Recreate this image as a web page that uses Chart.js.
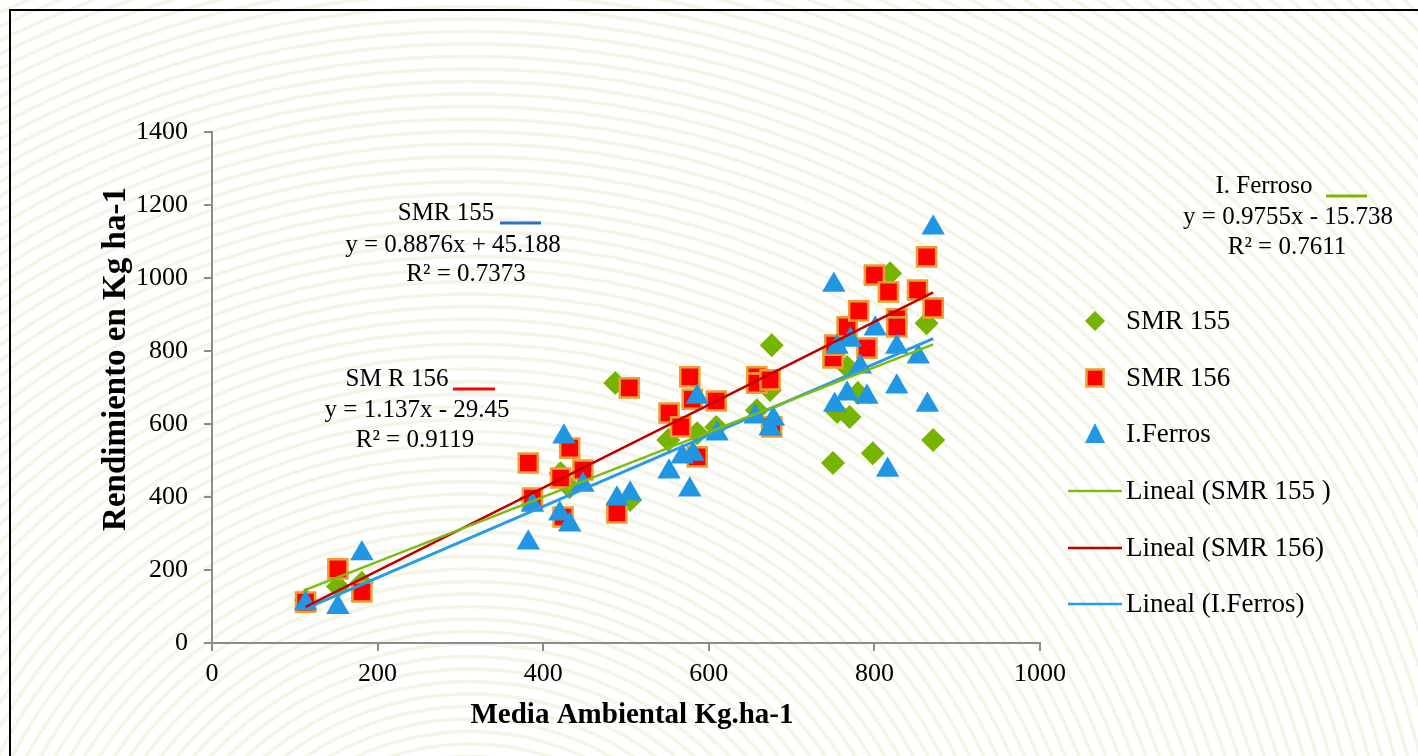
<!DOCTYPE html>
<html>
<head>
<meta charset="utf-8">
<script src="https://cdn.jsdelivr.net/npm/chart.js@4"></script>
<style>
  html, body { margin: 0; padding: 0; background: #fff; }
  #wrap { width: 1418px; height: 756px; }
</style>
</head>
<body>
<div id="wrap"><canvas id="chart" width="1418" height="756"></canvas></div>
<script>
// values
const smr155X = [113, 152, 181, 385, 421, 432, 487, 505, 551, 586, 609, 658, 674, 676, 750, 755, 767, 770, 780, 798, 819, 863, 871];
const smr155Y = [118, 155, 165, 395, 465, 427, 712, 392, 556, 575, 592, 638, 693, 816, 493, 633, 756, 619, 685, 520, 1013, 876, 556];

const smr156X = [113, 152, 181, 382, 387, 421, 424, 432, 448, 489, 504, 552, 566, 577, 580, 586, 609, 658, 658, 674, 676, 750, 752, 767, 781, 791, 800, 817, 827, 827, 852, 863, 871];
const smr156Y = [112, 203, 140, 493, 397, 452, 345, 534, 474, 356, 699, 630, 592, 729, 668, 510, 663, 729, 712, 721, 592, 781, 816, 866, 910, 808, 1008, 962, 888, 866, 967, 1058, 918];

const ferrosX = [113, 152, 181, 382, 387, 420, 425, 432, 448, 489, 505, 552, 568, 577, 581, 586, 610, 656, 674, 678, 751, 752, 755, 767, 771, 783, 791, 801, 816, 827, 827, 853, 864, 871];
const ferrosY = [108, 98, 245, 275, 378, 354, 565, 324, 433, 395, 409, 469, 510, 420, 518, 674, 573, 620, 587, 614, 981, 652, 811, 683, 830, 757, 674, 861, 474, 811, 702, 784, 652, 1138];

// linear trendlines as printed on the chart
const trendNames = ['Lineal (SMR 155 )', 'Lineal (SMR 156)', 'Lineal (I.Ferros)'];
const trendSlopes = [0.8876, 1.137, 0.9755];
const trendIntercepts = [45.188, -29.45, -15.738];
const trendRange = [113, 871];

const xTicks = [0, 200, 400, 600, 800, 1000];
const yTicks = [0, 200, 400, 600, 800, 1000, 1200, 1400];

const GREEN = '#76b400', RED = '#ff0000', ORANGE = '#e9a030', BLUE = '#2196e3';
const LINE_GREEN = '#7fba10', LINE_RED = '#c00000', LINE_BLUE = '#2a9be6';
const SERIF = '"Liberation Serif", "Times New Roman", serif';

function pts(xs, ys) { return xs.map((x, i) => ({ x: x, y: ys[i] })); }
function trend(i) {
    return trendRange.map(x => ({ x: x, y: trendSlopes[i] * x + trendIntercepts[i] }));
}

const bgPlugin = {
    id: 'bg',
    beforeDraw(chart) {
        const ctx = chart.ctx;
        ctx.save();
        ctx.fillStyle = '#ffffff';
        ctx.fillRect(0, 0, chart.width, chart.height);
        ctx.strokeStyle = '#f3f5e6';
        ctx.lineWidth = 3.5;
        for (let r = 6; r < 1800; r += 12.5) {
            ctx.beginPath();
            ctx.arc(470, 1000, r, 0, Math.PI * 2);
            ctx.stroke();
        }
        ctx.strokeStyle = '#000';
        ctx.lineWidth = 2;
        ctx.strokeRect(10, 10, 1440, 780);
        ctx.restore();
    }
};

function diamond(ctx, x, y, r) {
    ctx.beginPath();
    ctx.moveTo(x, y - r); ctx.lineTo(x + r, y); ctx.lineTo(x, y + r); ctx.lineTo(x - r, y);
    ctx.closePath();
    ctx.fillStyle = GREEN; ctx.fill();
}
function square(ctx, x, y, s) {
    ctx.fillStyle = RED; ctx.fillRect(x - s / 2, y - s / 2, s, s);
    ctx.strokeStyle = ORANGE; ctx.lineWidth = 2.5; ctx.strokeRect(x - s / 2, y - s / 2, s, s);
}
function triangle(ctx, x, y, w) {
    ctx.beginPath();
    ctx.moveTo(x, y - w / 2); ctx.lineTo(x + w / 2, y + w / 2); ctx.lineTo(x - w / 2, y + w / 2);
    ctx.closePath();
    ctx.fillStyle = BLUE; ctx.fill();
}

const textPlugin = {
    id: 'texts',
    afterDraw(chart) {
        const ctx = chart.ctx;
        ctx.save();
        ctx.fillStyle = '#000';
        ctx.textAlign = 'center';
        ctx.textBaseline = 'middle';

        // trendline labels
        ctx.font = '25px ' + SERIF;
        const notes = [
            ['SMR 155', 446, 213], ['y = 0.8876x + 45.188', 453, 245], ['R² = 0.7373', 466, 274],
            ['SM R 156', 397, 379], ['y = 1.137x - 29.45', 417, 410], ['R² = 0.9119', 415, 440],
            ['I. Ferroso', 1264, 186], ['y = 0.9755x - 15.738', 1288, 217], ['R² = 0.7611', 1287, 247]
        ];
        notes.forEach(n => ctx.fillText(n[0], n[1], n[2]));
        ctx.lineWidth = 3;
        [[500, 541, 223, '#2f6fc9'], [453, 495, 389, '#ff0000'], [1326, 1367, 196, '#7cb800']].forEach(s => {
            ctx.strokeStyle = s[3];
            ctx.beginPath(); ctx.moveTo(s[0], s[2]); ctx.lineTo(s[1], s[2]); ctx.stroke();
        });

        // legend
        ctx.textAlign = 'left';
        ctx.font = '27px ' + SERIF;
        const legY = [321, 378, 434, 491, 548, 604];
        const legText = ['SMR 155', 'SMR 156', 'I.Ferros'].concat(trendNames);
        diamond(ctx, 1095, legY[0], 10);
        square(ctx, 1095, legY[1], 17);
        triangle(ctx, 1095, legY[2] - 1, 20);
        [LINE_GREEN, LINE_RED, LINE_BLUE].forEach((c, i) => {
            ctx.strokeStyle = c; ctx.lineWidth = 2.5;
            ctx.beginPath(); ctx.moveTo(1068, legY[3 + i]); ctx.lineTo(1122, legY[3 + i]); ctx.stroke();
        });
        ctx.fillStyle = '#000';
        legText.forEach((t, i) => ctx.fillText(t, 1126, legY[i] + 1));

        // axis titles
        ctx.font = 'bold 29px ' + SERIF;
        ctx.textAlign = 'center';
        ctx.fillText('Media Ambiental Kg.ha-1', 632, 716);
        ctx.font = 'bold 33px ' + SERIF;
        ctx.translate(116, 359);
        ctx.rotate(-Math.PI / 2);
        ctx.fillText('Rendimiento en Kg ha-1', 0, 0);
        ctx.restore();
    }
};

const axisGrid = { drawOnChartArea: false, drawTicks: true, tickLength: 8, color: '#8c8c8c', lineWidth: 2 };
const axisBorder = { color: '#8c8c8c', width: 2 };
const plainTick = v => String(v);

new Chart(document.getElementById('chart'), {
    type: 'scatter',
    data: {
        datasets: [
            { label: trendNames[0], data: trend(0), showLine: true, borderColor: LINE_GREEN, borderWidth: 2.5, pointRadius: 0, order: 0 },
            { label: trendNames[1], data: trend(1), showLine: true, borderColor: LINE_RED, borderWidth: 2.5, pointRadius: 0, order: 0 },
            { label: trendNames[2], data: trend(2), showLine: true, borderColor: LINE_BLUE, borderWidth: 3, pointRadius: 0, order: 0 },
            { label: 'I.Ferros', data: pts(ferrosX, ferrosY), pointStyle: 'triangle', radius: 13.5, backgroundColor: BLUE, borderColor: BLUE, borderWidth: 0, order: 1 },
            { label: 'SMR 156', data: pts(smr156X, smr156Y), pointStyle: 'rect', radius: 13.5, backgroundColor: RED, borderColor: ORANGE, borderWidth: 2.5, order: 2 },
            { label: 'SMR 155', data: pts(smr155X, smr155Y), pointStyle: 'rectRot', radius: 12, backgroundColor: GREEN, borderColor: GREEN, borderWidth: 0, order: 3 }
        ]
    },
    options: {
        responsive: false,
        animation: false,
        devicePixelRatio: 1,
        layout: { padding: { top: 132, right: 378, left: 0, bottom: 0 } },
        plugins: { legend: { display: false }, tooltip: { enabled: false } },
        scales: {
            x: {
                type: 'linear', min: 0, max: 1000,
                afterBuildTicks: s => { s.ticks = xTicks.map(v => ({ value: v })); },
                afterFit: s => { s.height = 113; },
                ticks: { color: '#000', font: { family: SERIF, size: 26 }, padding: 8, maxRotation: 0, callback: plainTick },
                grid: axisGrid, border: axisBorder
            },
            y: {
                type: 'linear', min: 0, max: 1400,
                afterBuildTicks: s => { s.ticks = yTicks.map(v => ({ value: v })); },
                afterFit: s => { s.width = 212; },
                ticks: { color: '#000', font: { family: SERIF, size: 26 }, padding: 16, callback: plainTick },
                grid: axisGrid, border: axisBorder
            }
        }
    },
    plugins: [bgPlugin, textPlugin]
});
</script>
</body>
</html>
